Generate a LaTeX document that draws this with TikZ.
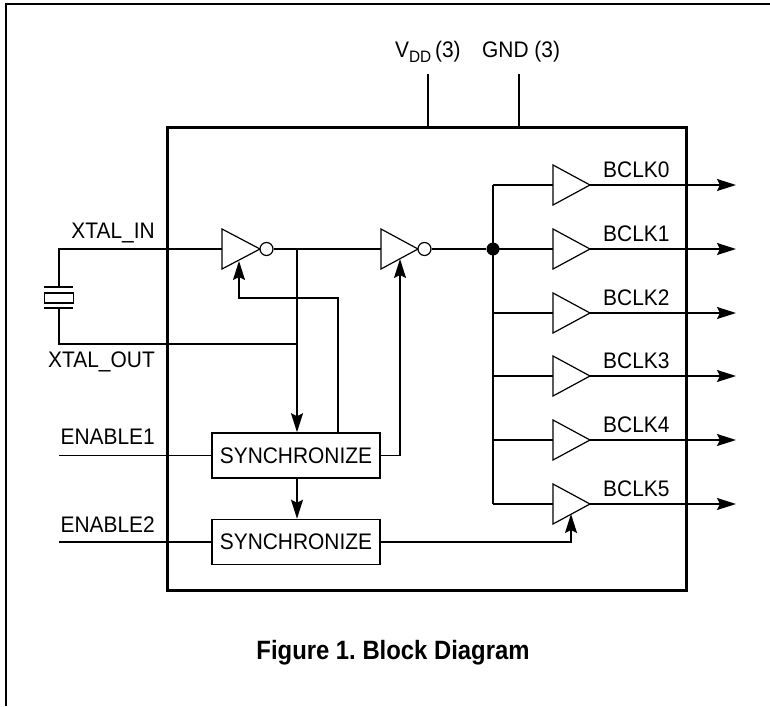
\documentclass[tikz,border=0pt]{standalone}
\usepackage{fontspec}
\setmainfont{Liberation Sans}
\newfontfamily\lblfont[FakeStretch=0.93]{Liberation Sans}
\newfontfamily\capfont[FakeStretch=0.9]{Liberation Sans}
\usetikzlibrary{arrows.meta}
\begin{document}
\begin{tikzpicture}[x=1pt,y=-1pt,
  wire/.style={line width=1.6pt},
  arr/.style={wire,-{Stealth[length=19pt,width=12pt,inset=3pt]}},
  gate/.style={draw,line width=1.2pt,line join=miter},
  lbl/.style={font=\lblfont\fontsize{22.5}{26}\selectfont,inner sep=0pt},
  syncbox/.style={draw,line width=1.6pt,minimum width=168pt,minimum height=45pt,inner sep=0pt,font=\lblfont\fontsize{22.5}{26}\selectfont},
  bubble/.style={circle,draw,line width=1.2pt,minimum size=13pt,inner sep=0pt,fill=white}]
\useasboundingbox (0,0) rectangle (770,706);
% page frame
\draw[line width=2pt] (6,706) -- (6,4) -- (770,4);
% chip
\node[draw,line width=3pt,minimum width=519pt,minimum height=463pt,inner sep=0pt] (chip) at (426.5,358.5) {};
% power
\coordinate (vdd) at (428,74);
\coordinate (gnd) at (519,74);
\draw[wire] (vdd) -- (vdd |- chip.north);
\draw[wire] (gnd) -- (gnd |- chip.north);
\node[lbl,anchor=base west] (vddl) at (395,58) {V\raisebox{-5pt}{\fontsize{16.5}{16}\selectfont DD}\,(3)};
\node[lbl,anchor=base west] (gndl) at (482,58) {GND (3)};
% crystal
\coordinate (xt) at (59,287);
\coordinate (xb) at (59,308);
\draw[wire] (44,287) -- (73,287);
\draw[wire] (44,308) -- (73,308);
\node[draw,line width=1.6pt,minimum width=29pt,minimum height=10pt,inner sep=0pt] (xtal) at (59,298) {};
% inverters
\draw[gate] (222,229) -- (260,249) -- (222,269) -- cycle;
\coordinate (i1in) at (222,249);
\node[bubble] (bub1) at (266.5,249) {};
\draw[gate] (381,229) -- (418,249) -- (381,269) -- cycle;
\coordinate (i2in) at (381,249);
\node[bubble] (bub2) at (424.5,249) {};
% labels
\node[lbl,anchor=base east] (xinl) at (155,238) {XTAL\_IN};
\node[lbl,anchor=base east] (xoutl) at (155,367) {XTAL\_OUT};
\node[lbl,anchor=base east] (en1l) at (155,444) {ENABLE1};
\node[lbl,anchor=base east] (en2l) at (155,532) {ENABLE2};
% wires
\coordinate (j0) at (297,249);
\coordinate (j1) at (297,344);
\draw[wire] (xt) |- (i1in);
\draw[wire] (xb) |- (j1);
\draw[wire] (bub1.east) -- (i2in);
\node[syncbox] (s1) at (296,455.5) {SYNCHRONIZE};
\node[syncbox] (s2) at (296,542) {SYNCHRONIZE};
\draw[arr] (j0) -- (j0 |- s1.north);
\draw[arr] (j0 |- s1.south) -- (j0 |- s2.north);
\coordinate (fb) at (338,298);
\coordinate (e1) at (239,261);
\draw[arr] (fb |- s1.north) -- (fb) -| (e1);
\coordinate (e2) at (400,259);
\draw[arr] (s1.east) -| (e2);
\coordinate (en1) at (59,455.5);
\coordinate (en2) at (59,542);
\draw[wire] (en1) -- (s1.west);
\draw[wire] (en2) -- (s2.west);
% bus
\coordinate (bustop) at (493,185);
\coordinate (busbot) at (493,504);
\draw[wire] (bustop) -- (busbot);
\node[circle,fill,inner sep=0pt,minimum size=13pt] (dot) at (493,249) {};
\draw[wire] (bub2.east) -- (dot);
\foreach \i/\y in {0/185,1/249,2/313,3/376,4/440,5/504} {
  \draw[gate] (553,\y-20) -- (590,\y) -- (553,\y+20) -- cycle;
  \coordinate (bi\i) at (553,\y);
  \coordinate (bo\i) at (590,\y);
  \coordinate (pin\i) at (736,\y);
  \draw[wire] (bustop |- bi\i) -- (bi\i);
  \draw[arr] (bo\i) -- (pin\i);
  \node[lbl,anchor=base west] (bl\i) at (603,\y-8) {BCLK\i};
}
\coordinate (e5) at (571,514);
\draw[arr] (s2.east) -| (e5);
% caption
\node[font=\capfont\bfseries\fontsize{26.5}{30}\selectfont,inner sep=0pt,anchor=base] (cap) at (393,659) {Figure 1.\ Block Diagram};
\end{tikzpicture}
\end{document}
